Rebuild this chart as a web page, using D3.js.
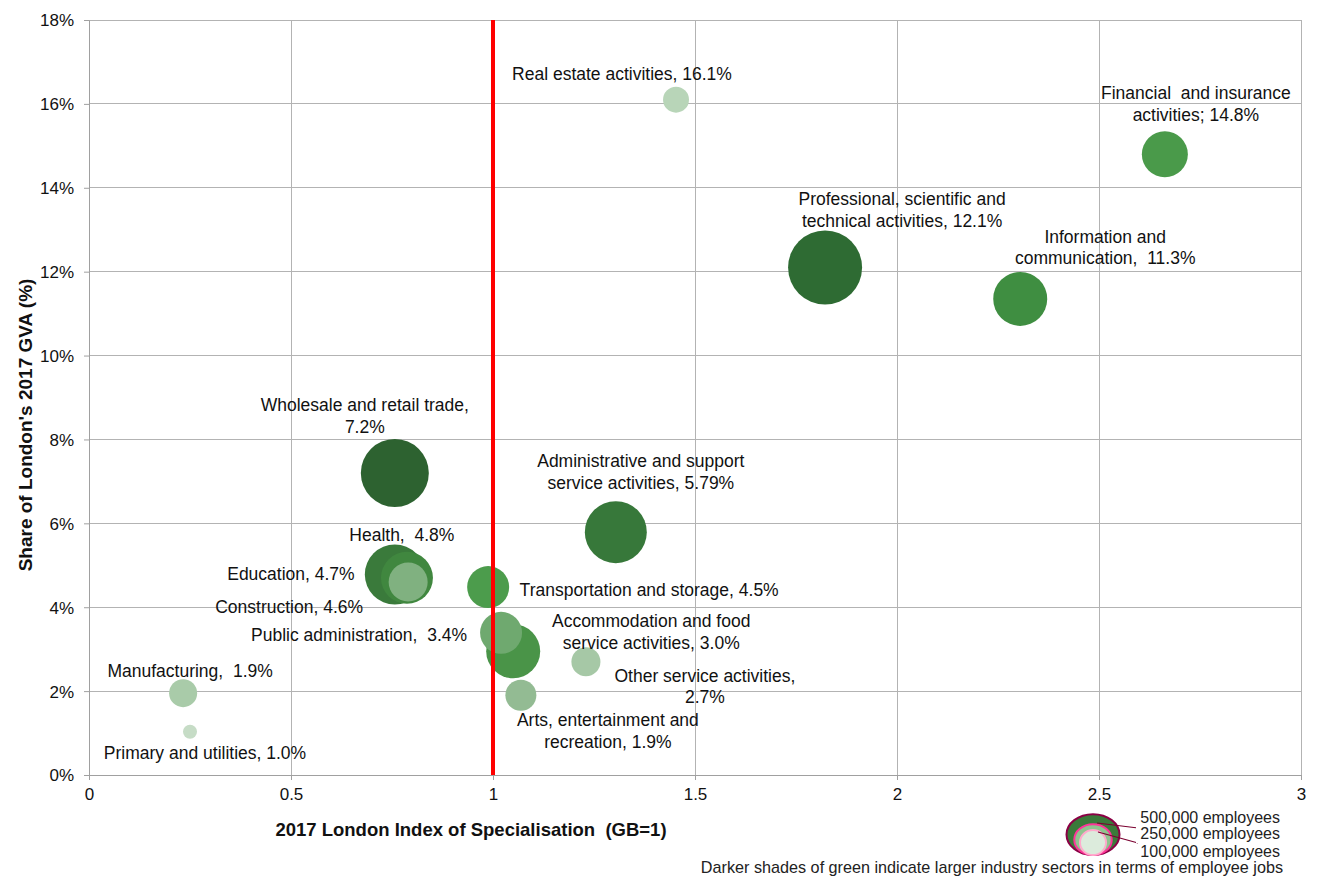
<!DOCTYPE html>
<html>
<head>
<meta charset="utf-8">
<script src="https://cdn.jsdelivr.net/npm/d3@7"></script>
<style>
  body { margin: 0; background: #fff; }
  svg { display: block; font-family: "Liberation Sans", Arial, sans-serif; }
  text { white-space: pre; }
</style>
</head>
<body>
<svg id="chart" width="1317" height="877"></svg>
<script>
// sectors, index of specialisation (x), share of GVA (y), employee jobs (bubble size)
var sectors = ['Real estate activities', 'Financial and insurance activities', 'Professional, scientific and technical activities',
  'Information and communication', 'Wholesale and retail trade', 'Administrative and support service activities',
  'Health', 'Education', 'Construction', 'Transportation and storage', 'Public administration',
  'Accommodation and food service activities', 'Other service activities', 'Arts, entertainment and recreation',
  'Manufacturing', 'Primary and utilities'];
var specialisation = [1.453, 2.663, 1.822, 2.305, 0.757, 1.304, 0.757, 0.787, 0.790, 0.988, 1.020, 1.050, 1.230, 1.069, 0.233, 0.250];
var gvaShare = [16.1, 14.8, 12.1, 11.35, 7.2, 5.79, 4.78, 4.7, 4.6, 4.48, 3.39, 2.95, 2.7, 1.9, 1.95, 1.03];
var employees = [120000, 377000, 975000, 519000, 823000, 684000, 641000, 481000, 271000, 314000, 314000, 519000, 150000, 171000, 140000, 35000];
var labelLines = [
  ['Real estate activities, 16.1%'],
  ['Financial  and insurance', 'activities; 14.8%'],
  ['Professional, scientific and', 'technical activities, 12.1%'],
  ['Information and', 'communication,  11.3%'],
  ['Wholesale and retail trade,', '7.2%'],
  ['Administrative and support', 'service activities, 5.79%'],
  ['Health,  4.8%'],
  ['Education, 4.7%'],
  ['Construction, 4.6%'],
  ['Transportation and storage, 4.5%'],
  ['Public administration,  3.4%'],
  ['Accommodation and food', 'service activities, 3.0%'],
  ['Other service activities,', '2.7%'],
  ['Arts, entertainment and', 'recreation, 1.9%'],
  ['Manufacturing,  1.9%'],
  ['Primary and utilities, 1.0%']
];
var xTicks = [0, 0.5, 1, 1.5, 2, 2.5, 3];
var yTicks = [0, 2, 4, 6, 8, 10, 12, 14, 16, 18];
var legendSizes = [500000, 250000, 100000];
var legendLabels = ['500,000 employees', '250,000 employees', '100,000 employees'];

// shades: darker = bigger sector
var shades = ['#b8d5b8', '#4a9a4a', '#2e6b33', '#3f8e41', '#2d6230', '#37783a', '#3a7a3b', '#40873f',
  '#80b180', '#4c9c4c', '#6fa96f', '#4a9448', '#a6c8a6', '#93bb93', '#a9cba9', '#c6dcc6'];
// label anchor offsets from bubble centre (px): [dx, dy of first baseline]
var labelOffsets = [[-54, -20], [31, -55], [77, -62], [85, -56], [-30, -62], [25, -65], [7, -34], [-116, 2],
  [-119, 31], [161, 9], [-142, 8], [138, -24], [119, 20], [87, 31], [7, -16], [15, 27]];

var margin = {left: 89, top: 20, right: 16, bottom: 102};
var svg = d3.select('#chart');
var x = d3.scaleLinear().domain([0, 3]).range([margin.left, 1301]);
var y = d3.scaleLinear().domain([0, 18]).range([775, margin.top]);
var r = d3.scaleSqrt().domain([0, 500000]).range([0, 26.5]);
var color = d3.scaleOrdinal().domain(sectors).range(shades);

var data = sectors.map(function(d, i){
  return {key: d, sx: specialisation[i], gva: gvaShare[i], emp: employees[i], lines: labelLines[i], off: labelOffsets[i]};
});

// grid
svg.append('g').selectAll('line.hg').data(yTicks).enter().append('line')
  .attr('x1', x(0)).attr('x2', x(3)).attr('y1', function(d){ return y(d); }).attr('y2', function(d){ return y(d); })
  .attr('stroke', '#b3b3b3').attr('stroke-width', 1).attr('shape-rendering', 'crispEdges');
svg.append('g').selectAll('line.vg').data(xTicks).enter().append('line')
  .attr('y1', y(0)).attr('y2', y(18)).attr('x1', function(d){ return x(d); }).attr('x2', function(d){ return x(d); })
  .attr('stroke', '#b3b3b3').attr('stroke-width', 1).attr('shape-rendering', 'crispEdges');

// axes
var xAxis = d3.axisBottom(x).tickValues(xTicks).tickSize(5).tickPadding(8).tickFormat(function(d){ return d3.format('')(d); });
var yAxis = d3.axisLeft(y).tickValues(yTicks).tickSize(5).tickPadding(10).tickFormat(function(d){ return d + '%'; });
var gx = svg.append('g').attr('transform', 'translate(0,' + y(0) + ')').call(xAxis);
var gy = svg.append('g').attr('transform', 'translate(' + x(0) + ',0)').call(yAxis);
[gx, gy].forEach(function(g){
  g.select('.domain').attr('stroke', '#a0a0a0');
  g.selectAll('.tick line').attr('stroke', '#a0a0a0');
  g.selectAll('.tick text').attr('font-size', 17).attr('fill', '#111').attr('font-family', '"Liberation Sans", Arial, sans-serif');
});
gy.selectAll('.tick text').attr('dy', '0.35em');

// bubbles, biggest first
var sorted = data.slice().sort(function(a, b){ return b.emp - a.emp; });
svg.append('g').selectAll('circle.bubble').data(sorted).enter().append('circle')
  .attr('class', 'bubble')
  .attr('cx', function(d){ return x(d.sx); })
  .attr('cy', function(d){ return y(d.gva); })
  .attr('r', function(d){ return r(d.emp); })
  .attr('fill', function(d){ return color(d.key); });

// London = GB line
svg.append('line').attr('x1', x(1)).attr('x2', x(1)).attr('y1', y(18)).attr('y2', y(0))
  .attr('stroke', '#ff0000').attr('stroke-width', 4);

// labels
svg.append('g').selectAll('text.lbl').data(data).enter().append('text')
  .attr('class', 'lbl')
  .attr('text-anchor', 'middle').attr('font-size', 17.5).attr('fill', '#111')
  .attr('x', function(d){ return x(d.sx) + d.off[0]; })
  .attr('y', function(d){ return y(d.gva) + d.off[1]; })
  .each(function(d){
    var t = d3.select(this), x0 = x(d.sx) + d.off[0];
    d.lines.forEach(function(l, i){
      t.append('tspan').attr('x', x0).attr('dy', i === 0 ? 0 : 21.5).text(l);
    });
  });

// axis titles
svg.append('text').attr('x', 471).attr('y', 836).attr('text-anchor', 'middle')
  .attr('font-size', 18.5).attr('font-weight', 'bold').attr('fill', '#111')
  .text('2017 London Index of Specialisation  (GB=1)');
svg.append('text').attr('transform', 'translate(32,' + 425 + ') rotate(-90)').attr('text-anchor', 'middle')
  .attr('font-size', 19).attr('font-weight', 'bold').attr('fill', '#111')
  .text("Share of London's 2017 GVA (%)");

// size legend
var lg = svg.append('g').attr('class', 'legend');
var lcx = 1093, lbottom = 855;
var strokes = ['#8b0045', '#ff3399', '#ffaacc'];
var fills = ['#3a7a3a', '#8fc48f', '#dcebdc'];
var squash = [0.77, 0.82, 1.05];
legendSizes.forEach(function(v, i){
  var rx = r(v) * (i === 2 ? 1.1 : 1), ry = r(v) * squash[i];
  lg.append('ellipse').attr('cx', lcx).attr('cy', lbottom - ry).attr('rx', rx).attr('ry', ry)
    .attr('fill', fills[i]).attr('stroke', strokes[i]).attr('stroke-width', 2);
});
lg.append('line').attr('x1', 1097).attr('y1', 823).attr('x2', 1138).attr('y2', 828).attr('stroke', '#7a0030').attr('stroke-width', 1.2);
lg.append('line').attr('x1', 1098).attr('y1', 832).attr('x2', 1138).attr('y2', 843).attr('stroke', '#7a0030').attr('stroke-width', 1.2);
var ly = [823, 839, 857];
legendLabels.forEach(function(t, i){
  if (i > 0) {
    lg.append('rect').attr('x', 1136).attr('y', ly[i] - 13).attr('width', 150).attr('height', 17).attr('fill', '#fff');
  }
  lg.append('text').attr('x', 1280).attr('y', ly[i]).attr('text-anchor', 'end')
    .attr('font-size', 16).attr('fill', '#222').text(t);
});
lg.append('rect').attr('x', 695).attr('y', 860).attr('width', 592).attr('height', 17).attr('fill', '#fff');
lg.append('text').attr('x', 1283).attr('y', 873).attr('text-anchor', 'end')
  .attr('font-size', 16.2).attr('fill', '#222')
  .text('Darker shades of green indicate larger industry sectors in terms of employee jobs');
</script>
</body>
</html>
